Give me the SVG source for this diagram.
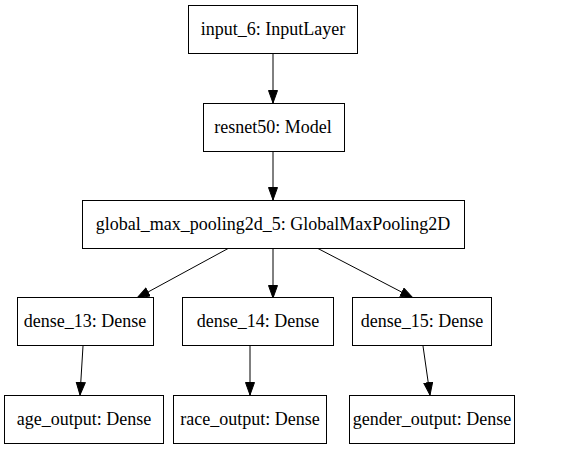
<svg xmlns="http://www.w3.org/2000/svg" width="571" height="449" viewBox="0 0 571 449">
  <style>
    .node rect { fill: #ffffff; stroke: #000000; stroke-width: 1; }
    .label { font-family: "Liberation Serif", "Times New Roman", Times, serif; font-size: 18px; fill: #000000; text-anchor: middle; }
    .edge { stroke: #000000; stroke-width: 1; fill: none; marker-end: url(#arrow); }
  </style>
  <defs>
    <!-- filled triangular arrowhead, tip at the end of the line -->
    <marker id="arrow" markerUnits="userSpaceOnUse" markerWidth="14" markerHeight="11" refX="13" refY="5" orient="auto">
      <path d="M0.5,0.5 L13,5 L0.5,9.5 z" fill="#000000" stroke="#000000" stroke-width="1"/>
    </marker>
  </defs>
  <rect width="571" height="449" fill="#ffffff"/>

  <g id="connectors">
    <line class="edge" x1="273" y1="53" x2="273" y2="103"/>
    <line class="edge" x1="273" y1="152" x2="273" y2="200"/>
    <line class="edge" x1="229" y1="248" x2="137" y2="298"/>
    <line class="edge" x1="273" y1="248" x2="273" y2="298"/>
    <line class="edge" x1="317" y1="248" x2="413" y2="298"/>
    <line class="edge" x1="83" y1="346" x2="80" y2="395"/>
    <line class="edge" x1="250" y1="346" x2="250" y2="395"/>
    <line class="edge" x1="423" y1="346" x2="430" y2="395"/>
  </g>

  <g id="input_6" class="node">
    <rect x="188.5" y="5.5" width="169" height="48"/>
    <text class="label" x="273" y="35">input_6: InputLayer</text>
  </g>
  <g id="resnet50" class="node">
    <rect x="203.5" y="103.5" width="141" height="48"/>
    <text class="label" x="273" y="133">resnet50: Model</text>
  </g>
  <g id="global_max_pooling2d_5" class="node">
    <rect x="82.5" y="200.5" width="382" height="48"/>
    <text class="label" x="273" y="230">global_max_pooling2d_5: GlobalMaxPooling2D</text>
  </g>
  <g id="dense_13" class="node">
    <rect x="17.5" y="297.5" width="136" height="48"/>
    <text class="label" x="85" y="327">dense_13: Dense</text>
  </g>
  <g id="dense_14" class="node">
    <rect x="182.5" y="297.5" width="151" height="48"/>
    <text class="label" x="258" y="327">dense_14: Dense</text>
  </g>
  <g id="dense_15" class="node">
    <rect x="352.5" y="297.5" width="139" height="48"/>
    <text class="label" x="422" y="327">dense_15: Dense</text>
  </g>
  <g id="age_output" class="node">
    <rect x="4.5" y="395.5" width="159" height="48"/>
    <text class="label" x="84" y="425">age_output: Dense</text>
  </g>
  <g id="race_output" class="node">
    <rect x="173.5" y="395.5" width="153" height="48"/>
    <text class="label" x="250" y="425">race_output: Dense</text>
  </g>
  <g id="gender_output" class="node">
    <rect x="349.5" y="395.5" width="165" height="48"/>
    <text class="label" x="432" y="425">gender_output: Dense</text>
  </g>
</svg>
